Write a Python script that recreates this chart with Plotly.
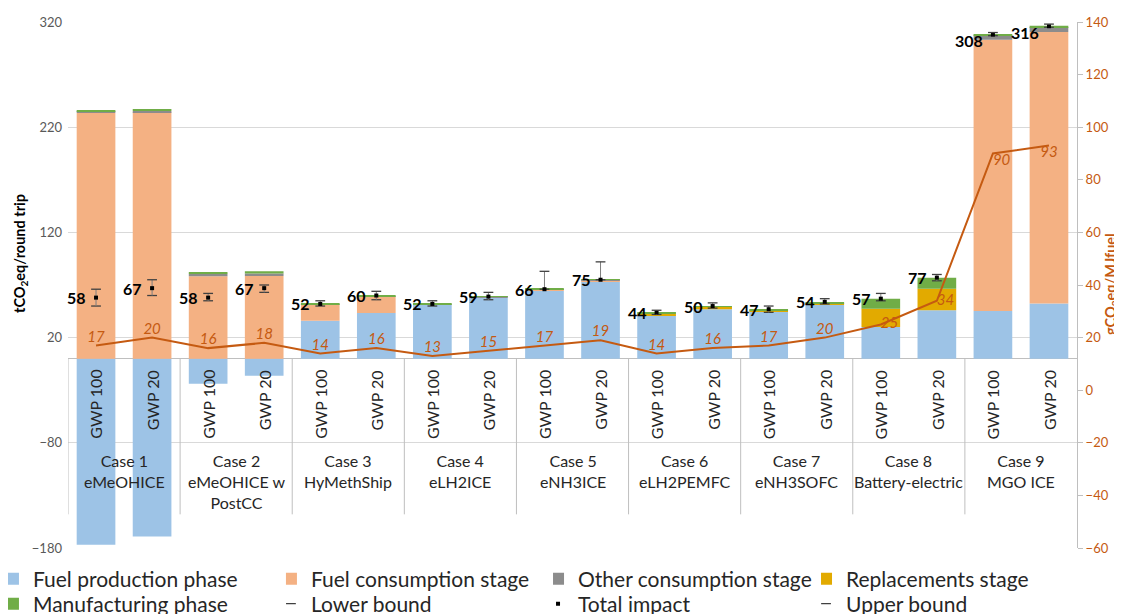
import plotly.graph_objects as go

FONT = "Lato"

cases = ["Case 1<br>eMeOHICE", "Case 2<br>eMeOHICE w<br>PostCC", "Case 3<br>HyMethShip",
         "Case 4<br>eLH2ICE", "Case 5<br>eNH3ICE", "Case 6<br>eLH2PEMFC",
         "Case 7<br>eNH3SOFC", "Case 8<br>Battery-electric", "Case 9<br>MGO ICE"]
gwp = ["GWP 100", "GWP 20"] * 9

fuel_production = [-177, -169, -23.8, -16.2, 36.1, 43.4, 51.3, 58.4, 64.3, 73.2,
                   41.2, 46.9, 44.7, 51.3, 30.1, 46.0, 45.3, 52.3]
fuel_consumption = [233.5, 234.1, 78.2, 78.5, 14.9, 15.2, 0, 0, 1.5, 1.5,
                    0, 0, 0, 0, 0, 0, 257.9, 258.2]
other_consumption = [1.3, 1.3, 2.6, 2.5, 0.3, 0.3, 0.3, 0.3, 0.2, 0.2,
                     0, 0, 0, 0, 0, 0, 4.4, 4.7]
replacements = [0, 0, 0, 0, 0, 0, 0, 0, 0, 0,
                1.8, 2.2, 1.5, 1.3, 17.4, 20.5, 0, 0]
manufacturing = [0.9, 1.3, 1.6, 2.0, 1.3, 1.3, 0.9, 0.6, 0.5, 0.5,
                 0.9, 0.9, 0.9, 1.3, 9.5, 10.5, 0.7, 1.3]

total_impact = [58, 67, 58, 67, 52, 60, 52, 59, 66, 75, 44, 50, 47, 54, 57, 77, 308, 316]
lower_bound = [50, 60, 55, 63, 50, 56, 50, 56, 66, 75, 42, 48, 44, 52, 55, 74, 307, 315]
upper_bound = [66, 75, 62, 70, 55, 64, 55, 63, 83, 92, 46, 53, 50, 57, 62, 80, 310, 318]

g_per_mj = [17, 20, 16, 18, 14, 16, 13, 15, 17, 19, 14, 16, 17, 20, 25, 34, 90, 93]

left_ticks = [-180, -80, 20, 120, 220, 320]
right_ticks = [-60, -40, -20, 0, 20, 40, 60, 80, 100, 120, 140]

x = list(range(len(gwp)))

ORANGE = "#C55A11"
fig = go.Figure()

bar_specs = [
    ("Fuel production phase", fuel_production, "#9DC3E6", "legend"),
    ("Fuel consumption stage", fuel_consumption, "#F4B183", "legend2"),
    ("Other consumption stage", other_consumption, "#8C8C8C", "legend3"),
    ("Replacements stage", replacements, "#E2AA00", "legend4"),
    ("Manufacturing phase", manufacturing, "#70AD47", "legend5"),
]
for name, vals, col, lg in bar_specs:
    fig.add_trace(go.Bar(x=x, y=vals, name=name, marker=dict(color=col, line=dict(width=0)),
                         width=0.69, legend=lg, hoverinfo="y+name"))

fig.add_trace(go.Scatter(x=x, y=lower_bound, mode="markers", name="Lower bound", legend="legend6",
                         marker=dict(symbol="line-ew", size=7, line=dict(width=1.3, color="#404040"))))
fig.add_trace(go.Scatter(x=x, y=total_impact, mode="markers", name="Total impact", legend="legend7",
                         marker=dict(symbol="square", size=4, color="#000000"),
                         error_y=dict(type="data", symmetric=False,
                                      array=[u - t for u, t in zip(upper_bound, total_impact)],
                                      arrayminus=[t - l for t, l in zip(total_impact, lower_bound)],
                                      width=0, thickness=1, color="#7F7F7F")))
fig.add_trace(go.Scatter(x=x, y=upper_bound, mode="markers", name="Upper bound", legend="legend8",
                         marker=dict(symbol="line-ew", size=7, line=dict(width=1.3, color="#404040"))))

line_pos = ["top center"] * 14 + ["middle right", "middle right", "bottom right", "bottom center"]
fig.add_trace(go.Scatter(x=x, y=g_per_mj, yaxis="y2", mode="lines+text", showlegend=False,
                         line=dict(color=ORANGE, width=2),
                         text=[str(v) for v in g_per_mj], textposition=line_pos,
                         textfont=dict(family=FONT, size=15, color=ORANGE, style="italic")))

annotations = []
# total labels
for i, t in enumerate(total_impact):
    annotations.append(dict(x=i, y=t, xref="x", yref="y", text=str(t), showarrow=False,
                            xanchor="right", yanchor="middle", xshift=-8,
                            yshift=-6 if t > 300 else 0,
                            font=dict(family=FONT, size=16, color="#000000", weight="bold")))
# GWP labels
for i, g in enumerate(gwp):
    annotations.append(dict(x=i, y=-9, xref="x", yref="y", text=g, showarrow=False,
                            textangle=-90, xanchor="center", yanchor="top",
                            font=dict(family=FONT, size=16, color="#262626")))
# case labels
for k, c in enumerate(cases):
    annotations.append(dict(x=2 * k + 0.5, y=-86, xref="x", yref="y", text=c, showarrow=False,
                            xanchor="center", yanchor="top", align="center",
                            font=dict(family=FONT, size=16, color="#262626")))
# axis titles
annotations.append(dict(x=(20 - 68) / 1009, y=(548 - 254) / 526, xref="paper", yref="paper",
                        text="tCO<sub>2</sub>eq/round trip", showarrow=False, textangle=-90,
                        xanchor="center", yanchor="middle",
                        font=dict(family=FONT, size=14.5, color="#000000", weight="bold")))
annotations.append(dict(x=(1111 - 68) / 1009, y=(548 - 284) / 526, xref="paper", yref="paper",
                        text="gCO<sub>2</sub>eq/MJfuel", showarrow=False, textangle=-90,
                        xanchor="center", yanchor="middle",
                        font=dict(family=FONT, size=14.5, color=ORANGE, weight="bold")))

shapes = []
for k in range(9):
    xs = 2 * k - 0.5
    shapes.append(dict(type="line", xref="x", yref="y", x0=xs, x1=xs, y0=0, y1=-148,
                       line=dict(color="#BFBFBF", width=1)))

# legend placement: one legend per entry, 4 columns x 2 rows
col_x = [-0.0595, 0.216, 0.4807, 0.7463]
row_y = [(548 - 579) / 526, (548 - 604) / 526]
legend_layout = {}
for idx in range(8):
    key = "legend" if idx == 0 else f"legend{idx + 1}"
    legend_layout[key] = dict(orientation="h", xref="paper", yref="paper",
                              x=col_x[idx % 4], y=row_y[idx // 4],
                              xanchor="left", yanchor="middle",
                              font=dict(family=FONT, size=21, color="#262626"), itemwidth=30,
                              indentation=-15, bgcolor="rgba(0,0,0,0)")

fig.update_layout(
    width=1114, height=606,
    margin=dict(l=60, r=45, t=14, b=66, autoexpand=False),
    paper_bgcolor="white", plot_bgcolor="white",
    barmode="relative",
    font=dict(family=FONT, color="#595959"),
    xaxis=dict(range=[-0.5, 17.5], showticklabels=False, showgrid=False, zeroline=False,
               showline=False, fixedrange=True),
    yaxis=dict(range=[-180, 320], tickvals=left_ticks, showgrid=True, gridcolor="#D9D9D9",
               gridwidth=1, zeroline=True, zerolinecolor="#BFBFBF", zerolinewidth=1,
               showline=False, ticks="", ticklabelstandoff=5,
               tickfont=dict(family=FONT, size=13, color="#595959")),
    yaxis2=dict(range=[-60, 140], tickvals=right_ticks, overlaying="y", side="right",
                showgrid=False, zeroline=False, showline=True, linecolor="#BFBFBF",
                ticks="outside", ticklen=5, tickcolor="#BFBFBF",
                tickfont=dict(family=FONT, size=13, color=ORANGE)),
    annotations=annotations,
    shapes=shapes,
    showlegend=True,
    **legend_layout,
)

fig.write_html("out.html")
